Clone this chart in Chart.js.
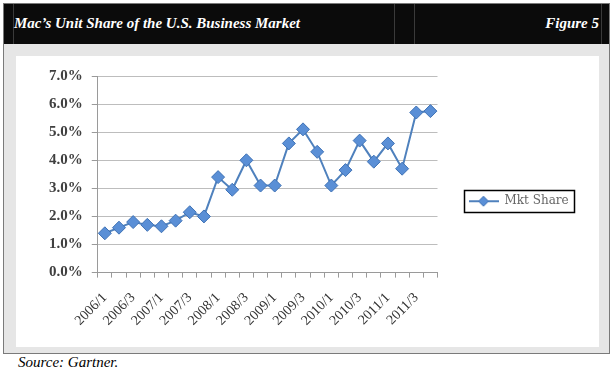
<!DOCTYPE html>
<html>
<head>
<meta charset="utf-8">
<script src="https://cdn.jsdelivr.net/npm/chart.js@4.4.0/dist/chart.umd.min.js"></script>
<style>
  html, body { margin: 0; padding: 0; background: #ffffff; width: 613px; height: 377px; overflow: hidden; }
  #frame { position: absolute; left: 3px; top: 3px; width: 605px; height: 349px; border: 1px solid #7a7a7a; background: #e6e6e6; }
  #header { position: absolute; left: 0; top: 0; width: 605px; height: 40px; background: #0b0b0b; }
  .vline { position: absolute; top: 0; width: 1px; height: 40px; background: #3a3a3a; }
  #title { position: absolute; left: 10px; top: 11px; color: #ffffff; font: italic bold 15px "Liberation Serif", "Times New Roman", serif; white-space: nowrap; }
  #fig { position: absolute; right: 10px; top: 11px; color: #ffffff; font: italic bold 15px "Liberation Serif", "Times New Roman", serif; white-space: nowrap; }
  #panel { position: absolute; left: 12px; top: 52px; width: 583px; height: 291px; background: #ffffff; }
  #source { position: absolute; left: 18px; top: 354px; font: italic 15px "Liberation Serif", "Times New Roman", serif; color: #000; }
</style>
</head>
<body>
<div id="frame">
  <div id="header">
    <div class="vline" style="left:9px"></div>
    <div class="vline" style="left:390px"></div>
    <div class="vline" style="left:410px"></div>
    <div class="vline" style="left:597px"></div>
    <div id="title">Mac’s Unit Share of the U.S. Business Market</div>
    <div id="fig">Figure 5</div>
  </div>
  <div id="panel"><canvas id="c" width="583" height="291"></canvas></div>
</div>
<div id="source">Source: Gartner.</div>
<script>
const categories = ['2006/1','2006/2','2006/3','2006/4',
                    '2007/1','2007/2','2007/3','2007/4',
                    '2008/1','2008/2','2008/3','2008/4',
                    '2009/1','2009/2','2009/3','2009/4',
                    '2010/1','2010/2','2010/3','2010/4',
                    '2011/1','2011/2','2011/3','2011/4'];
const mktShare = [1.4, 1.6, 1.8, 1.7,
                  1.65, 1.85, 2.15, 2.0,
                  3.4, 2.95, 4.0, 3.1,
                  3.1, 4.6, 5.1, 4.3,
                  3.1, 3.65, 4.7, 3.95,
                  4.6, 3.7, 5.7, 5.75];
const seriesName = 'Mkt Share';
const yTicks = [0, 1, 2, 3, 4, 5, 6, 7];

const lineColor = '#4f81bd';
const markerFill = '#5a8fd6';
const markerBorder = '#3f72b5';

// legend symbol: line with diamond
const sym = document.createElement('canvas');
sym.width = 30; sym.height = 14;
(function(){
  const g = sym.getContext('2d');
  g.strokeStyle = lineColor; g.lineWidth = 2;
  g.beginPath(); g.moveTo(0, 7); g.lineTo(30, 7); g.stroke();
  g.fillStyle = markerFill; g.strokeStyle = markerBorder; g.lineWidth = 1;
  g.beginPath(); g.moveTo(15, 2); g.lineTo(20, 7); g.lineTo(15, 12); g.lineTo(10, 7); g.closePath();
  g.fill(); g.stroke();
})();

const legendBox = {
  id: 'legendBox',
  afterDraw(chart) {
    const lg = chart.legend;
    if (!lg || !lg.legendHitBoxes || !lg.legendHitBoxes.length) return;
    const h = lg.legendHitBoxes[0];
    const ctx = chart.ctx;
    ctx.save();
    ctx.strokeStyle = '#000000';
    ctx.lineWidth = 1.5;
    ctx.strokeRect(Math.round(h.left - 5) + 0.5, Math.round(h.top - 5) + 0.5, Math.round(h.width + 10), Math.round(h.height + 10));
    ctx.restore();
  }
};

new Chart(document.getElementById('c'), {
  type: 'line',
  data: {
    labels: categories,
    datasets: [{
      label: seriesName,
      data: mktShare,
      borderColor: lineColor,
      borderWidth: 2,
      backgroundColor: markerFill,
      pointStyle: 'rectRot',
      pointRadius: 6.5,
      pointHoverRadius: 6.5,
      pointBackgroundColor: markerFill,
      pointBorderColor: markerBorder,
      pointBorderWidth: 1,
      tension: 0,
      fill: false
    }]
  },
  options: {
    responsive: false,
    animation: false,
    devicePixelRatio: 1,
    layout: { padding: { left: 24, right: 29, top: 20, bottom: 6 } },
    plugins: {
      tooltip: { enabled: false },
      legend: {
        display: true,
        position: 'right',
        align: 'start',
        title: { display: true, text: ' ', font: { size: 1 }, padding: { top: 0, bottom: 87 } },
        labels: {
          usePointStyle: true,
          pointStyle: sym,
          pointStyleWidth: 30,
          color: '#000000',
          font: { family: '"DejaVu Serif", serif', size: 12 },
          padding: 31,
          generateLabels(chart) {
            return [{ text: seriesName, pointStyle: sym, fillStyle: markerFill, strokeStyle: lineColor, lineWidth: 0, datasetIndex: 0 }];
          }
        }
      }
    },
    scales: {
      x: {
        offset: true,
        grid: { display: true, drawOnChartArea: false, offset: true, color: '#9a9a9a', tickLength: 5, tickColor: '#9a9a9a' },
        border: { display: true, color: '#9a9a9a', width: 1 },
        ticks: {
          autoSkip: false,
          maxRotation: 45,
          minRotation: 45,
          padding: 12,
          color: '#333333',
          font: { family: '"Liberation Serif", serif', size: 14 },
          callback: function(v, i) { return i % 2 === 0 ? categories[i] : ''; }
        }
      },
      y: {
        min: 0,
        max: 7,
        afterBuildTicks(scale) { scale.ticks = yTicks.map(v => ({ value: v })); },
        grid: { color: '#bdbdbd', lineWidth: 1, tickLength: 6, tickColor: '#9a9a9a' },
        border: { display: true, color: '#9a9a9a', width: 1 },
        ticks: {
          padding: 9,
          color: '#404040',
          font: { family: '"Liberation Serif", serif', size: 15, weight: 'bold' },
          callback: function(v) { return v.toFixed(1) + '%'; }
        }
      }
    }
  },
  plugins: [legendBox]
});
</script>
</body>
</html>
